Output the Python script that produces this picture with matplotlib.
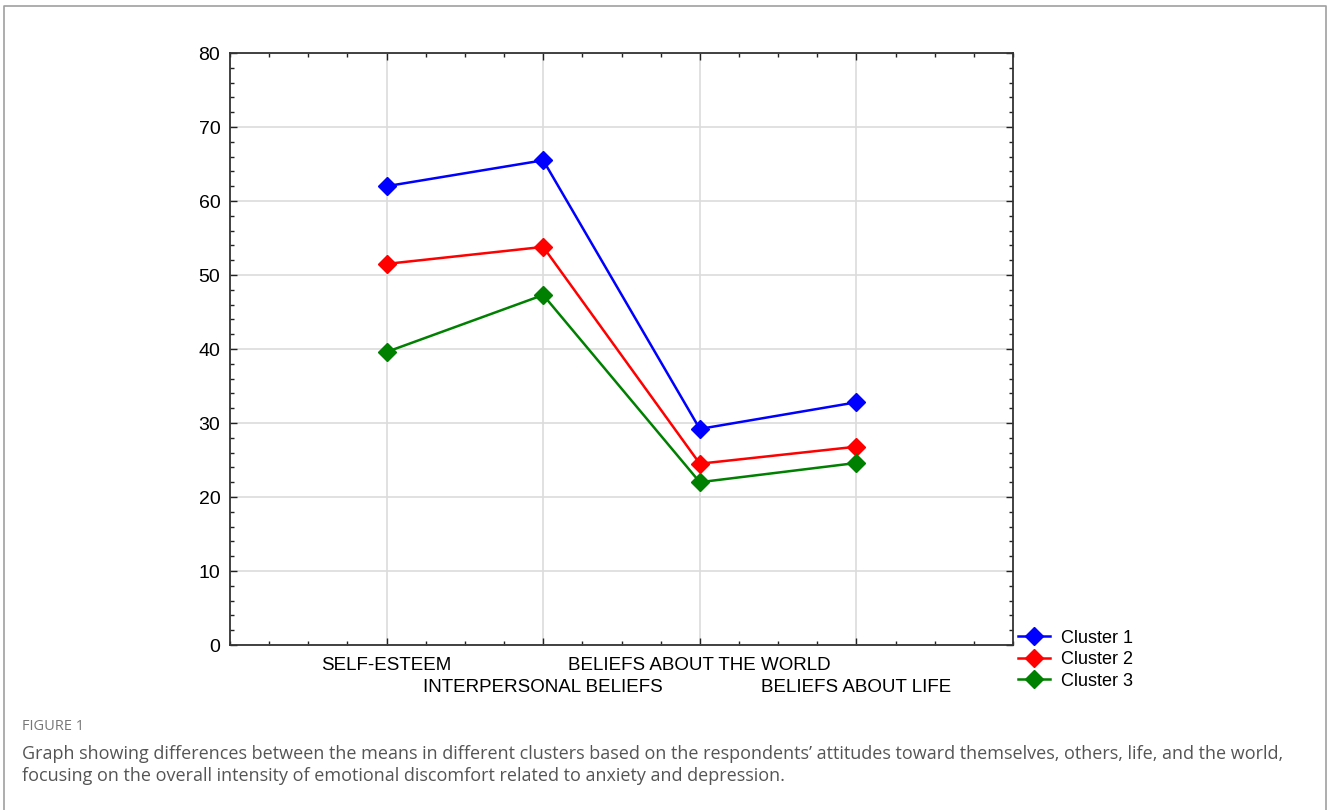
import matplotlib
matplotlib.use("Agg")
import matplotlib.pyplot as plt
from matplotlib.ticker import MultipleLocator, FixedLocator
from matplotlib.lines import Line2D

categories = ["SELF-ESTEEM", "INTERPERSONAL BELIEFS", "BELIEFS ABOUT THE WORLD", "BELIEFS ABOUT LIFE"]
cluster1 = [62.0, 65.5, 29.2, 32.8]
cluster2 = [51.5, 53.8, 24.5, 26.8]
cluster3 = [39.6, 47.3, 22.0, 24.6]
series_names = ["Cluster 1", "Cluster 2", "Cluster 3"]
colors = ["#0000FF", "#FF0000", "#008000"]

plt.rcParams['font.family'] = ['Liberation Sans', 'DejaVu Sans']

fig = plt.figure(figsize=(13.28, 8.10), dpi=100)
ax = fig.add_axes([230/1328, 1-645/810, (1013-230)/1328, (645-53)/810])

x = list(range(len(categories)))
for vals, name, c in zip([cluster1, cluster2, cluster3], series_names, colors):
    ax.plot(x, vals, color=c, lw=1.8, marker='D', ms=9.5, label=name, zorder=3)

ax.set_xlim(-1, 4)
ax.set_ylim(0, 80)
ax.yaxis.set_major_locator(MultipleLocator(10))
ax.yaxis.set_minor_locator(MultipleLocator(2))
ax.xaxis.set_major_locator(FixedLocator(x))
ax.xaxis.set_minor_locator(MultipleLocator(0.25))
ax.set_xticklabels(categories, fontsize=13.5)
ax.tick_params(axis='y', labelsize=14, pad=7)
ax.tick_params(which='both', direction='in', top=True, right=True, color='#222222')
ax.tick_params(which='major', length=5, width=1)
ax.tick_params(which='minor', length=3, width=1)
for i, t in enumerate(ax.xaxis.get_major_ticks()):
    t.set_pad(8.5 if i % 2 == 0 else 24.3)
ax.grid(True, which='major', color='#dcdcdc', lw=1.2, zorder=0)
for s in ax.spines.values():
    s.set_color('#333333')
    s.set_linewidth(1.3)

handles = [Line2D([0], [0], color=c, lw=1.8, marker='D', ms=9.5) for c in colors]
fig.legend(handles, series_names, loc='upper left', bbox_to_anchor=(1014/1328, 1-626/810),
           frameon=False, fontsize=13, handlelength=1.8, handletextpad=0.6,
           labelspacing=0.25, borderaxespad=0, borderpad=0.2)

# outer border (top, left, right)
fig.add_artist(Line2D([4/1328, 4/1328, 1326/1328, 1326/1328], [0, 1-6/810, 1-6/810, 0],
                      transform=fig.transFigure, color='#a0a0a0', lw=1.2))

fig.text(22/1328, 1-727/810, "FIGURE 1", fontsize=10.5, color='#777777',
         family=['Open Sans', 'DejaVu Sans'], va='center')
fig.text(22/1328, 1-754/810,
         "Graph showing differences between the means in different clusters based on the respondents\u2019 attitudes toward themselves, others, life, and the world,",
         fontsize=13, color='#555555', family=['Open Sans', 'DejaVu Sans'], va='center')
fig.text(22/1328, 1-776/810,
         "focusing on the overall intensity of emotional discomfort related to anxiety and depression.",
         fontsize=13, color='#555555', family=['Open Sans', 'DejaVu Sans'], va='center')

fig.savefig("out.png", dpi=100, facecolor='white')
